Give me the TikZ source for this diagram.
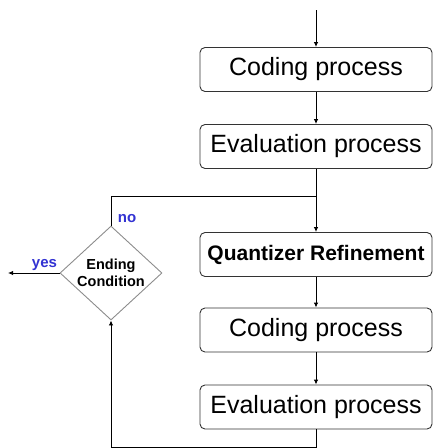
\documentclass[tikz,border=0pt]{standalone}
\usepackage{fontspec}
\setmainfont{Liberation Sans}
\usetikzlibrary{shapes.geometric,arrows.meta}
\definecolor{labelblue}{RGB}{50,50,210}
\begin{document}
\begin{tikzpicture}[x=1pt,y=-1pt,
  proc/.style={draw=black!80,line width=0.9pt,rounded corners=5pt,minimum width=232pt,minimum height=44pt,inner sep=0pt,font=\fontsize{25}{30}\selectfont},
  flow/.style={line width=0.9pt,-{Latex[length=5pt,width=4.5pt]}},
  answer/.style={text=labelblue,font=\bfseries\fontsize{15}{18}\selectfont,anchor=base,inner sep=0pt}]
\useasboundingbox (0,0) rectangle (433,448);
\node[proc] (code1) at (316,69.5) {Coding process};
\node[proc] (eval1) at (316,146.5) {Evaluation process};
\node[proc,font=\bfseries\fontsize{21}{25}\selectfont] (quant) at (316,254.5) {Quantizer Refinement};
\node[proc] (code2) at (316,330) {Coding process};
\node[proc] (eval2) at (316,407) {Evaluation process};
\node[diamond,draw=black!45,line width=0.9pt,aspect=1.085,minimum width=102pt,minimum height=94pt,inner sep=0pt,align=center,font=\bfseries\fontsize{14.5}{17}\selectfont] (cond) at (111,273) {Ending\\Condition};
\coordinate (start) at (316,10);
\coordinate (join) at (316,196);
\coordinate (bottom) at (316,447.5);
\coordinate (exit) at (8,273);
\draw[flow] (start) -- (code1);
\draw[flow] (code1) -- (eval1);
\draw[flow] (eval1) -- (quant);
\draw[flow] (quant) -- (code2);
\draw[flow] (code2) -- (eval2);
% loop back to the test
\draw[flow] (eval2) -- (bottom) -| (cond);
\draw[line width=0.9pt] (cond) |- (join);
\draw[flow] (cond) -- (exit);
\node[answer] (yes) at (44.5,267) {yes};
\node[answer] (no) at (127,222) {no};
\end{tikzpicture}
\end{document}
